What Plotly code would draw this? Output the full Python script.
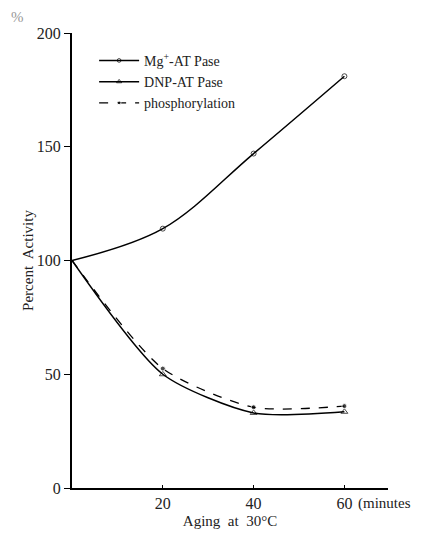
import plotly.graph_objects as go

minutes = [0, 20, 40, 60]
mg_atpase = [100, 114, 147, 181]
dnp_atpase = [100, 50, 33, 33.5]
phosphorylation = [100, 52.5, 35.5, 36]
y_ticks = [0, 50, 100, 150, 200]
x_ticks = [20, 40, 60]

FONT = "Liberation Serif"
msize = [0, 5, 5, 5]

fig = go.Figure()
fig.add_trace(go.Scatter(
    x=minutes, y=mg_atpase, mode="lines+markers", name="Mg<sup>+</sup>-AT Pase",
    line=dict(color="black", width=1.5, shape="spline", smoothing=1.0),
    marker=dict(symbol="circle-open", size=msize, color="black", line=dict(width=1))))
fig.add_trace(go.Scatter(
    x=minutes, y=dnp_atpase, mode="lines+markers", name="DNP-AT Pase",
    line=dict(color="black", width=1.5, shape="spline", smoothing=0.7),
    marker=dict(symbol="triangle-up-open", size=[0, 6, 6, 6], color="black", line=dict(width=1))))
fig.add_trace(go.Scatter(
    x=minutes, y=phosphorylation, mode="lines+markers", name="phosphorylation",
    line=dict(color="black", width=1.3, dash="dash", shape="spline", smoothing=0.7),
    marker=dict(symbol="circle", size=msize, color="black")))

fig.update_layout(
    width=426, height=530,
    margin=dict(l=64, r=46, t=25, b=50, autoexpand=False),
    paper_bgcolor="white", plot_bgcolor="white",
    font=dict(family=FONT, size=15, color="#222"),
    showlegend=True,
    legend=dict(x=0.07, y=0.974, xanchor="left", yanchor="top",
                bgcolor="rgba(0,0,0,0)", font=dict(size=14, family=FONT),
                tracegroupgap=0, itemwidth=40),
    xaxis=dict(range=[0, 69.6], tickvals=x_ticks, ticktext=[str(v) for v in x_ticks],
               showgrid=False, zeroline=False, showline=True, linecolor="black", linewidth=2,
               ticks="inside", ticklen=3, tickcolor="black",
               tickfont=dict(family=FONT, size=16),
               title=dict(text="Aging  at  30°C", font=dict(size=15, family=FONT), standoff=4)),
    yaxis=dict(range=[0, 200], tickvals=y_ticks, showgrid=False, zeroline=False,
               showline=True, linecolor="black", linewidth=2,
               ticks="outside", ticklen=6, tickcolor="black",
               tickfont=dict(family=FONT, size=16),
               title=dict(text="Percent  Activity", font=dict(size=15, family=FONT), standoff=0)),
)
fig.add_annotation(x=-0.174, y=1.035, xref="paper", yref="paper", text="%", showarrow=False,
                   xanchor="center", yanchor="middle", font=dict(size=15, color="#999", family=FONT))
fig.add_annotation(x=60, y=0, xref="x", yref="y", text="(minutes", showarrow=False,
                   xanchor="left", yanchor="top", xshift=12, yshift=-5, font=dict(size=15, family=FONT))
fig.write_html("out.html")
